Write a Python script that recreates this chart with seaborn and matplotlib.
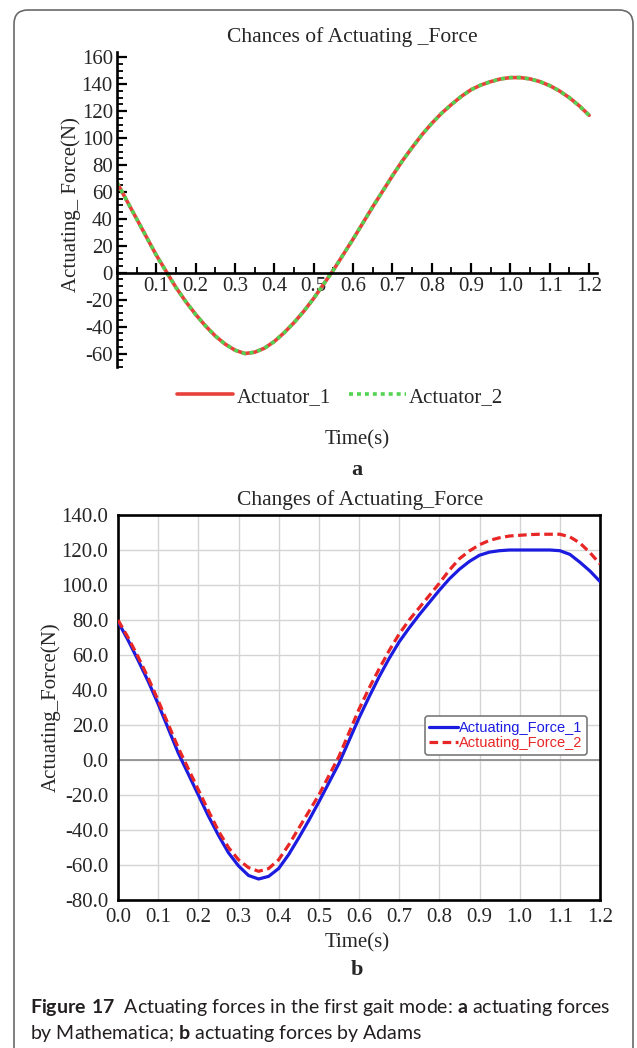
import numpy as np
import pandas as pd
import matplotlib
matplotlib.use('Agg')
import matplotlib.pyplot as plt
import seaborn as sns
from matplotlib.patches import FancyBboxPatch
from matplotlib.ticker import MultipleLocator, FormatStrFormatter

# time samples (s) shared by both panels
time_s = [0.0, 0.025, 0.05, 0.075, 0.1, 0.125, 0.15, 0.175, 0.2, 0.225, 0.25, 0.275,
          0.3, 0.325, 0.35, 0.375, 0.4, 0.425, 0.45, 0.475, 0.5, 0.525, 0.55, 0.575,
          0.6, 0.625, 0.65, 0.675, 0.7, 0.725, 0.75, 0.775, 0.8, 0.825, 0.85, 0.875,
          0.9, 0.925, 0.95, 0.975, 1.0, 1.025, 1.05, 1.075, 1.1, 1.125, 1.15, 1.175, 1.2]

# (a) Mathematica result - both actuators give the same curve
actuator_1 = [67, 53.5, 40, 26.5, 13, 1, -11, -21.5, -31, -39.5, -47, -53,
              -57.5, -60, -59, -56, -51, -44.5, -37, -28.5, -19, -8.5, 2, 13.5,
              25, 37, 49, 60.5, 72, 83, 93, 102.5, 111, 118.5, 125, 131,
              136, 139.5, 142, 144, 145, 145, 144, 142, 139, 135, 130, 124, 117]
actuator_2 = [67, 53.5, 40, 26.5, 13, 1, -11, -21.5, -31, -39.5, -47, -53,
              -57.5, -60, -59, -56, -51, -44.5, -37, -28.5, -19, -8.5, 2, 13.5,
              25, 37, 49, 60.5, 72, 83, 93, 102.5, 111, 118.5, 125, 131,
              136, 139.5, 142, 144, 145, 145, 144, 142, 139, 135, 130, 124, 117]

# (b) Adams result
force_1 = [79, 68.5, 57, 45, 32, 18, 4, -8, -20, -32, -43, -53,
           -60.5, -66, -68, -66.5, -62, -54, -44.5, -34.5, -24, -13, -2, 11,
           24, 36, 47.5, 58, 67.5, 75.5, 83, 90, 97, 103.5, 109, 113.5,
           117, 118.8, 119.6, 120, 120, 120, 120, 120, 119.6, 117.5, 113, 108, 102]
force_2 = [80, 70, 59, 47, 34, 20.5, 7, -5, -17, -29, -40.5, -50,
           -57, -61.5, -63.6, -62, -57, -48.5, -39, -29.5, -20, -9, 2, 15.5,
           29, 41, 52, 62.5, 72, 80, 87, 94, 101, 108.5, 115, 119.5,
           123, 125.5, 127, 128, 128.4, 128.8, 129, 129, 129, 127.5, 124, 118.5, 112]

a_yticks = list(range(-60, 161, 20))
a_xticks = [0.1, 0.2, 0.3, 0.4, 0.5, 0.6, 0.7, 0.8, 0.9, 1.0, 1.1, 1.2]
b_yticks = list(range(-80, 141, 20))
b_xticks = [0.0, 0.1, 0.2, 0.3, 0.4, 0.5, 0.6, 0.7, 0.8, 0.9, 1.0, 1.1, 1.2]

sns.set_style('white')
plt.rcParams['font.family'] = ['Liberation Serif', 'DejaVu Serif']
plt.rcParams['axes.unicode_minus'] = False
plt.rcParams['mathtext.fontset'] = 'custom'
plt.rcParams['mathtext.rm'] = 'Lato'
plt.rcParams['mathtext.bf'] = 'Lato:bold'

W, H = 637, 1048
fig = plt.figure(figsize=(W / 100, H / 100), dpi=100)


def fx(px):
    return px / W


def fy(py):
    return 1 - py / H


# outer frame of the figure box
frame = FancyBboxPatch((14, -30), 619, 1068, boxstyle='round,pad=0,rounding_size=14',
                       transform=None, fill=False, ec='#6a6a6a', lw=1.2)
fig.add_artist(frame)

# ---------- panel a ----------
ax_a = fig.add_axes([fx(117), fy(367), 480 / W, 315 / H])
df_a = pd.DataFrame({'Time': time_s, 'Actuator_1': actuator_1, 'Actuator_2': actuator_2})
sns.lineplot(data=df_a, x='Time', y='Actuator_1', ax=ax_a, color='#e8403a', lw=2.6,
             label='Actuator_1')
sns.lineplot(data=df_a, x='Time', y='Actuator_2', ax=ax_a, color='#52d352', lw=2.6,
             linestyle=(0, (1.1, 1.1)), label='Actuator_2')

ax_a.set_xlim(0, 1.22)
ax_a.set_ylim(-70, 164)
ax_a.spines['left'].set_position(('data', 0))
ax_a.spines['bottom'].set_position(('data', 0))
ax_a.spines['top'].set_visible(False)
ax_a.spines['right'].set_visible(False)
for s in ['left', 'bottom']:
    ax_a.spines[s].set_linewidth(1.9)
    ax_a.spines[s].set_color('black')
ax_a.set_xticks(a_xticks)
ax_a.xaxis.set_major_formatter(FormatStrFormatter('%.1f'))
ax_a.xaxis.set_minor_locator(MultipleLocator(0.05))
ax_a.set_yticks(a_yticks)
ax_a.yaxis.set_minor_locator(MultipleLocator(5))
ax_a.tick_params(which='major', direction='in', length=7, width=1.6, labelsize=15,
                 color='black', left=True, bottom=True)
ax_a.tick_params(which='minor', direction='in', length=4, width=1.3,
                 color='black', left=True, bottom=True)
ax_a.tick_params(axis='x', pad=3)
ax_a.tick_params(axis='y', pad=3)
ax_a.set_xlabel('')
ax_a.set_ylabel('')
ax_a.patch.set_alpha(0)

ax_a.legend(loc='center', bbox_to_anchor=(fx(340), fy(397)), bbox_transform=fig.transFigure,
            ncol=2, frameon=False, handlelength=2.7, handletextpad=0.15,
            columnspacing=0.9, fontsize=15)

fig.text(fx(352), fy(37), 'Chances of Actuating _Force', ha='center', va='center', fontsize=15.5)
fig.text(fx(71), fy(205), 'Actuating_ Force(N)', ha='center', va='center', rotation=90,
         fontsize=15)
fig.text(fx(357), fy(440), 'Time(s)', ha='center', va='center', fontsize=15)
fig.text(fx(357), fy(470), 'a', ha='center', va='center', fontsize=16, fontweight='bold')

# ---------- panel b ----------
ax_b = fig.add_axes([fx(118), fy(900), 482 / W, 385 / H])
df_b = pd.DataFrame({'Time': time_s, 'Actuating_Force_1': force_1,
                     'Actuating_Force_2': force_2})
ax_b.axhline(0, color='#8a8a8a', lw=1.2, zorder=1)
sns.lineplot(data=df_b, x='Time', y='Actuating_Force_1', ax=ax_b, color='#1c1ce0', lw=2.3,
             label='Actuating_Force_1', zorder=3)
sns.lineplot(data=df_b, x='Time', y='Actuating_Force_2', ax=ax_b, color='#e82626', lw=2.3,
             linestyle=(0, (2.7, 1.4)), label='Actuating_Force_2', zorder=4)

ax_b.set_xlim(0, 1.2)
ax_b.set_ylim(-80, 140)
ax_b.set_xticks(b_xticks)
ax_b.set_yticks(b_yticks)
ax_b.xaxis.set_major_formatter(FormatStrFormatter('%.1f'))
ax_b.yaxis.set_major_formatter(FormatStrFormatter('%.1f'))
ax_b.grid(True, color='#d4d4d4', lw=1.0)
ax_b.set_axisbelow(True)
for s in ax_b.spines.values():
    s.set_linewidth(1.9)
    s.set_color('black')
ax_b.tick_params(length=0, labelsize=15)
ax_b.tick_params(axis='x', pad=6)
ax_b.tick_params(axis='y', pad=7)
ax_b.set_xlabel('')
ax_b.set_ylabel('')

leg = ax_b.legend(loc='upper right', bbox_to_anchor=(0.988, 0.496), frameon=True,
                  prop={'family': 'Liberation Sans', 'size': 10.5}, handlelength=2.0,
                  handletextpad=0.05, labelspacing=0.1, borderpad=0.3,
                  labelcolor='linecolor', fancybox=True, shadow=False)
leg.get_frame().set_edgecolor('#7a7a7a')
leg.get_frame().set_linewidth(1.2)
leg.get_frame().set_alpha(1)

fig.text(fx(360), fy(500), 'Changes of Actuating_Force', ha='center', va='center',
         fontsize=15.5)
fig.text(fx(51), fy(707), 'Actuating_Force(N)', ha='center', va='center', rotation=90,
         fontsize=15)
fig.text(fx(357), fy(943), 'Time(s)', ha='center', va='center', fontsize=15)
fig.text(fx(357), fy(970), 'b', ha='center', va='center', fontsize=16, fontweight='bold')

# caption
fig.text(fx(30), fy(1008),
         r'$\mathbf{Figure\ 17}$  Actuating forces in the first gait mode: $\mathbf{a}$ actuating forces',
         ha='left', va='center', fontsize=14, family='Lato', color='#231f20')
fig.text(fx(30), fy(1034), r'by Mathematica; $\mathbf{b}$ actuating forces by Adams',
         ha='left', va='center', fontsize=14, family='Lato', color='#231f20')

fig.savefig('out.png', dpi=100)
